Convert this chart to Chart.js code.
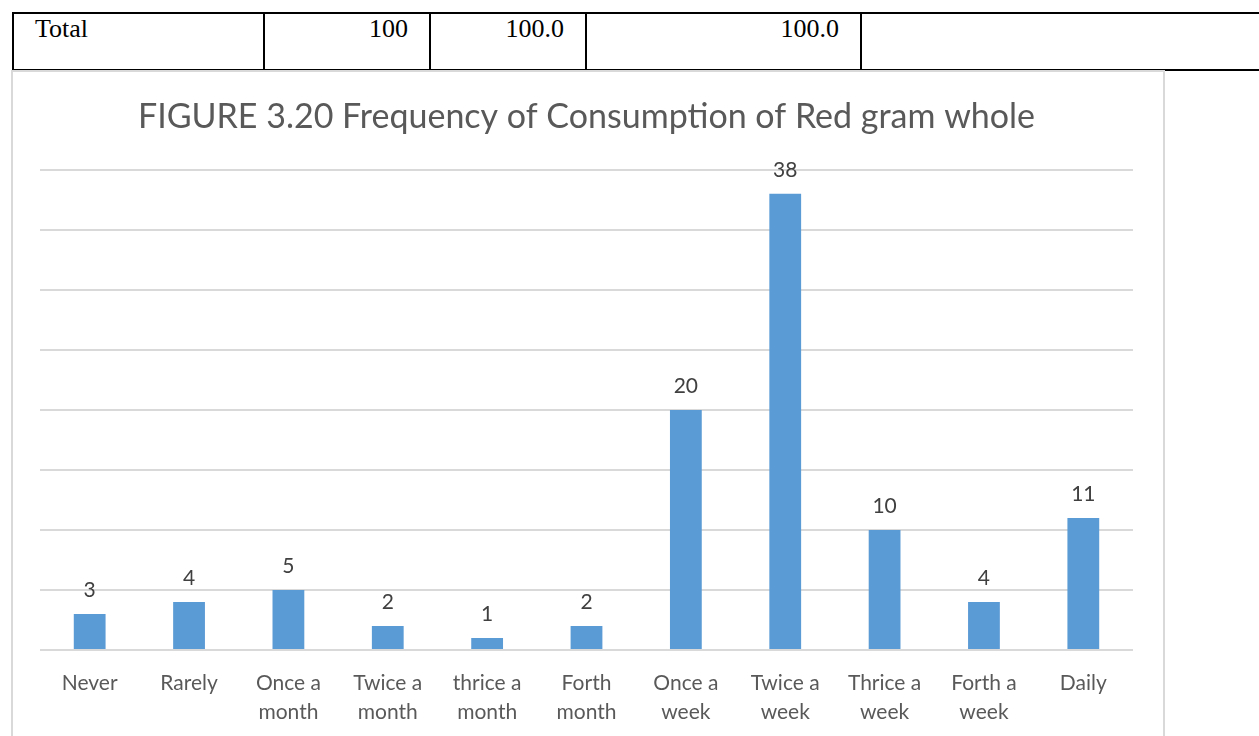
<!DOCTYPE html>
<html>
<head>
<meta charset="utf-8">
<script src="https://cdn.jsdelivr.net/npm/chart.js@4.4.0/dist/chart.umd.min.js"></script>
<style>
  body { margin: 0; background: #fff; width: 1259px; height: 736px; overflow: hidden; position: relative; }
  .cell { position: absolute; top: 12px; height: 55px; border: 2px solid #000; box-sizing: content-box;
          font-family: "Liberation Serif", "Times New Roman", serif; font-size: 26px; color: #000; line-height: 26px; }
  .cell span { position: absolute; top: 2px; }
  #box { position: absolute; left: 11px; top: 70px; width: 1150px; height: 700px; border: 2px solid #d9d9d9; background: #fff; }
  #chart { position: absolute; left: 0; top: 0; }
</style>
</head>
<body>
<div id="table"></div>
<div id="box"><canvas id="chart" width="1148" height="664"></canvas></div>
<script>
// table row above the figure
var rowTexts = ['Total', '100', '100.0', '100.0', ''];
var rowAlign = ['left', 'right', 'right', 'right', 'left'];

// chart data
var categories = [
  'Never', 'Rarely', ['Once a', 'month'], ['Twice a', 'month'], ['thrice a', 'month'],
  ['Forth', 'month'], ['Once a', 'week'], ['Twice a', 'week'], ['Thrice a', 'week'],
  ['Forth a', 'week'], 'Daily'
];
var counts = [3, 4, 5, 2, 1, 2, 20, 38, 10, 4, 11];
var chartTitle = 'FIGURE 3.20 Frequency of Consumption of Red gram whole';

var edges = [12, 263, 431, 587, 862, 1300];
var tbl = document.getElementById('table');
rowTexts.forEach(function (t, i) {
  var d = document.createElement('div');
  d.className = 'cell';
  d.style.left = edges[i] + 'px';
  d.style.width = (edges[i + 1] - edges[i] - 2) + 'px';
  if (i > 0) d.style.borderLeft = 'none';
  var s = document.createElement('span');
  s.textContent = t;
  if (rowAlign[i] === 'left') s.style.left = '21px'; else s.style.right = '21px';
  d.appendChild(s);
  tbl.appendChild(d);
});

var valueLabels = {
  id: 'valueLabels',
  afterDatasetsDraw: function (chart) {
    var ctx = chart.ctx;
    var meta = chart.getDatasetMeta(0);
    ctx.save();
    ctx.font = '21px Lato';
    ctx.fillStyle = '#404040';
    ctx.textAlign = 'center';
    ctx.textBaseline = 'middle';
    meta.data.forEach(function (bar, i) {
      ctx.fillText(String(counts[i]), bar.x, bar.y - 24);
    });
    ctx.restore();
  }
};

new Chart(document.getElementById('chart'), {
  type: 'bar',
  data: {
    labels: categories,
    datasets: [{
      data: counts,
      backgroundColor: '#5b9bd5',
      borderWidth: 0,
      categoryPercentage: 1,
      barPercentage: 0.32
    }]
  },
  options: {
    responsive: false,
    animation: false,
    layout: { padding: { left: 27, right: 28, top: 0, bottom: 0 } },
    plugins: {
      legend: { display: false },
      tooltip: { enabled: false },
      title: {
        display: true,
        text: chartTitle,
        color: '#595959',
        font: { family: 'Lato', size: 34, weight: 'normal', lineHeight: 1.2 },
        padding: { top: 25, bottom: 32 }
      }
    },
    scales: {
      x: {
        grid: { display: false },
        border: { display: false },
        ticks: {
          color: '#595959',
          font: { family: 'Lato', size: 21, lineHeight: '29px' },
          padding: 11,
          maxRotation: 0,
          autoSkip: false
        },
        afterFit: function (s) { s.height = 86; }
      },
      y: {
        min: 0,
        max: 40,
        ticks: { display: false, stepSize: 5 },
        border: { display: false },
        grid: { color: '#d9d9d9', lineWidth: 2, drawTicks: false },
        afterFit: function (s) { s.width = 0; }
      }
    }
  },
  plugins: [valueLabels]
});
</script>
</body>
</html>
